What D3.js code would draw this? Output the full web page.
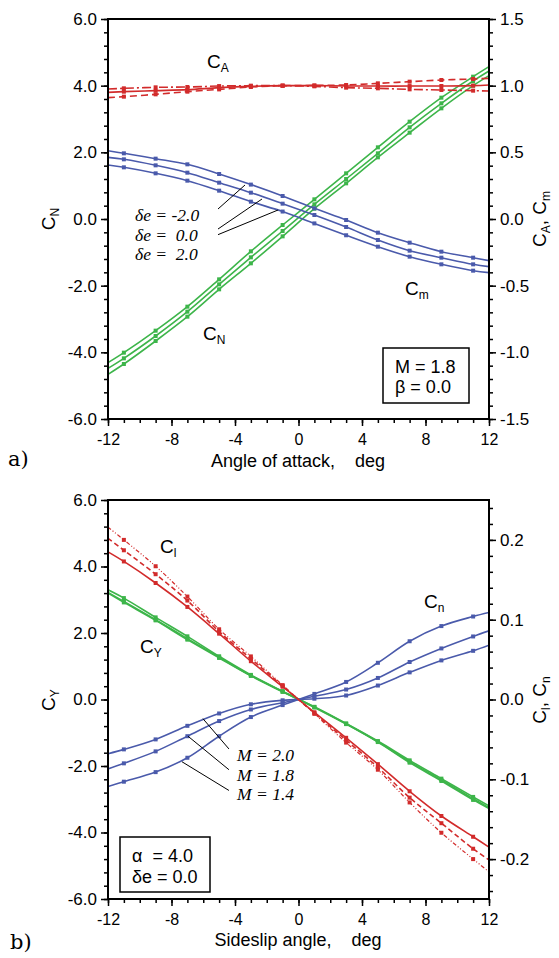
<!DOCTYPE html>
<html>
<head>
<meta charset="utf-8">
<script src="https://cdn.jsdelivr.net/npm/d3@7"></script>
<style>
body { margin: 0; background: #fff; }
svg { display: block; font-family: "Liberation Sans", Arial, sans-serif; }
.axis text { font-family: "Liberation Sans", Arial, sans-serif; font-size: 17px; fill: #000; }
.axis.xlab text { font-size: 16px; }
.axis line { stroke: #000; stroke-width: 1.5; }
.axis path { display: none; }
.lbl { font-size: 19px; }
.note { font-family: "Liberation Serif", "Times New Roman", serif; font-style: italic; font-size: 17.5px; white-space: pre; }
.title { font-size: 18px; white-space: pre; }
.box { font-size: 18px; }
</style>
</head>
<body>
<svg id="chart" width="559" height="958"></svg>
<script>
// angle stations (deg), markers on the odd ones
var angles = [-12, -11, -9, -7, -5, -3, -1, 1, 3, 5, 7, 9, 11, 12];

// a) alpha sweep, M = 1.8
var normDeM2 = [-4.66, -4.35, -3.66, -2.93, -2.11, -1.33, -0.52, 0.31, 1.07, 1.85, 2.59, 3.32, 4.0, 4.3];
var normDe0 = [-4.48, -4.18, -3.51, -2.78, -1.96, -1.15, -0.36, 0.44, 1.2, 1.97, 2.75, 3.47, 4.14, 4.44];
var normDeP2 = [-4.31, -4.01, -3.35, -2.63, -1.81, -0.97, -0.18, 0.59, 1.37, 2.15, 2.92, 3.64, 4.27, 4.57];
var pitchDeM2 = [0.5125, 0.4925, 0.4525, 0.41, 0.3375, 0.258, 0.1725, 0.08, -0.0075, -0.1025, -0.1775, -0.245, -0.29, -0.3125];
var pitchDe0 = [0.4625, 0.4475, 0.4025, 0.3475, 0.2725, 0.1975, 0.115, 0.03, -0.06, -0.1575, -0.2375, -0.29, -0.34, -0.3575];
var pitchDeP2 = [0.405, 0.3875, 0.3425, 0.2875, 0.2125, 0.13, 0.056, -0.033, -0.122, -0.2075, -0.2825, -0.34, -0.3875, -0.4025];
var axialDe0 = [0.95, 0.955, 0.9625, 0.97, 0.985, 0.995, 1.0, 1.0, 0.998, 0.997, 0.997, 0.9975, 1.0, 1.005];
var axialDeM2 = [0.91, 0.9175, 0.935, 0.955, 0.972, 0.99, 1.0, 1.002, 1.005, 1.0175, 1.03, 1.0425, 1.05, 1.055];
var axialDeP2 = [0.975, 0.98, 0.9875, 0.99, 0.997, 1.0, 1.0, 0.995, 0.985, 0.98, 0.9725, 0.9675, 0.9625, 0.96];

// b) beta sweep, alpha = 4
var sideM20 = [3.3, 3.05, 2.47, 1.9, 1.3, 0.74, 0.25, -0.22, -0.72, -1.25, -1.83, -2.38, -2.93, -3.2];
var sideM18 = [3.22, 2.95, 2.4, 1.83, 1.27, 0.72, 0.24, -0.23, -0.73, -1.27, -1.87, -2.42, -2.98, -3.25];
var sideM14 = [3.2, 2.92, 2.38, 1.8, 1.25, 0.71, 0.23, -0.24, -0.74, -1.28, -1.9, -2.45, -3.02, -3.28];
var rollM20 = [0.185, 0.173, 0.146, 0.116, 0.0825, 0.048, 0.016, -0.016, -0.048, -0.081, -0.115, -0.146, -0.172, -0.185];
var rollM18 = [0.202, 0.187, 0.157, 0.124, 0.085, 0.051, 0.017, -0.017, -0.051, -0.085, -0.123, -0.155, -0.187, -0.201];
var rollM14 = [0.216, 0.2, 0.167, 0.129, 0.088, 0.054, 0.018, -0.018, -0.054, -0.088, -0.129, -0.167, -0.2, -0.216];
var yawM20 = [-0.068, -0.0625, -0.05, -0.033, -0.0175, -0.006, -0.001, 0.001, 0.005, 0.0175, 0.034, 0.049, 0.061, 0.068];
var yawM18 = [-0.087, -0.08, -0.065, -0.046, -0.027, -0.0125, -0.004, 0.004, 0.0125, 0.027, 0.047, 0.064, 0.079, 0.086];
var yawM14 = [-0.109, -0.103, -0.091, -0.073, -0.046, -0.022, -0.007, 0.007, 0.022, 0.046, 0.073, 0.092, 0.104, 0.109];

// ticks
var xTicks = [-12, -8, -4, 0, 4, 8, 12];
var leftTicks = [-6, -4, -2, 0, 2, 4, 6];
var topRightTicks = [-1.5, -1, -0.5, 0, 0.5, 1, 1.5];
var botRightTicks = [-0.2, -0.1, 0, 0.1, 0.2];

var blue = "#4a5aab", green = "#3db54a", red = "#d22b2b";
var dashed = "7,4", dashDot = "9,3,2,3", dashDotDot = "4,2,1,2,1,2";

var svg = d3.select("#chart");

// plain hyphen instead of the unicode minus
var fmt = function(v) { return d3.format(".1f")(v).replace("\u2212", "-"); },
    fmtInt = function(v) { return d3.format("d")(v).replace("\u2212", "-"); };

var x = d3.scaleLinear().domain([-12, 12]).range([108, 489]);

function panel(top, bottom, rDomain, rMajor, rMinor, id) {
    var p = {
        yl: d3.scaleLinear().domain([-6, 6]).range([bottom, top]),
        yr: d3.scaleLinear().domain(rDomain).range([bottom, top]),
        g: svg.append("g")
    };

    svg.append("clipPath").attr("id", id)
      .append("rect").attr("x", x.range()[0]).attr("y", top)
        .attr("width", x.range()[1] - x.range()[0]).attr("height", bottom - top);
    p.plot = p.g.append("g").attr("clip-path", "url(#" + id + ")");

    // minor ticks
    p.g.append("g").attr("class", "axis").attr("transform", "translate(0," + bottom + ")")
        .call(d3.axisBottom(x).tickValues(d3.range(-12, 13, 1)).tickSize(4).tickFormat(""));
    p.g.append("g").attr("class", "axis").attr("transform", "translate(108,0)")
        .call(d3.axisLeft(p.yl).tickValues(d3.range(-6, 6.01, 0.4)).tickSize(4).tickFormat(""));
    p.g.append("g").attr("class", "axis").attr("transform", "translate(489,0)")
        .call(d3.axisRight(p.yr).tickValues(rMinor).tickSize(4).tickFormat(""));

    // major ticks with labels
    p.g.append("g").attr("class", "axis xlab").attr("transform", "translate(0," + bottom + ")")
        .call(d3.axisBottom(x).tickValues(xTicks).tickSize(7).tickPadding(8).tickFormat(fmtInt));
    p.g.append("g").attr("class", "axis").attr("transform", "translate(108,0)")
        .call(d3.axisLeft(p.yl).tickValues(leftTicks).tickSize(7).tickPadding(4).tickFormat(fmt));
    p.g.append("g").attr("class", "axis").attr("transform", "translate(489,0)")
        .call(d3.axisRight(p.yr).tickValues(rMajor).tickSize(7).tickPadding(4).tickFormat(fmt));

    p.g.append("rect")
        .attr("x", 108).attr("y", top).attr("width", 381).attr("height", bottom - top)
        .attr("fill", "none").attr("stroke", "#000").attr("stroke-width", 2);
    return p;
}

function series(p, yScale, values, color, dash, width) {
    var pts = angles.map(function(a, i) { return {a: a, v: values[i]}; });
    var line = d3.line()
        .x(function(d) { return x(d.a); })
        .y(function(d) { return yScale(d.v); })
        .curve(d3.curveCatmullRom.alpha(0.5));
    p.plot.append("path")
        .datum(pts)
        .attr("d", line)
        .attr("fill", "none")
        .attr("stroke", color)
        .attr("stroke-width", width || 1.6)
        .attr("stroke-dasharray", dash || null);
    p.plot.selectAll(null)
        .data(pts.filter(function(d) { return Math.abs(d.a) !== 12; }))
      .enter().append("rect")
        .attr("x", function(d) { return x(d.a) - 2; })
        .attr("y", function(d) { return yScale(d.v) - 2; })
        .attr("width", 4).attr("height", 4)
        .attr("fill", color);
}

function subLabel(px, py, main, sub, rotate) {
    var t = svg.append("text").attr("class", "lbl");
    if (rotate) {
        t.attr("transform", "translate(" + px + "," + py + ") rotate(-90)").attr("text-anchor", "middle");
    } else {
        t.attr("x", px).attr("y", py);
    }
    for (var i = 0; i < main.length; i++) {
        t.append("tspan").attr("dy", i ? -4 : 0).text(main[i]);
        t.append("tspan").attr("dy", 4).attr("font-size", 12).text(sub[i]);
    }
}

function leader(p, yScale, a0, v0, a1, v1) {
    p.g.append("line")
        .attr("x1", x(a0)).attr("y1", yScale(v0))
        .attr("x2", x(a1)).attr("y2", yScale(v1))
        .attr("stroke", "#000").attr("stroke-width", 1);
}

// ---- a) ----
var pa = panel(19, 419, [-1.5, 1.5], topRightTicks, d3.range(-1.5, 1.51, 0.1), "clipA");

series(pa, pa.yl, normDeM2, green);
series(pa, pa.yl, normDe0, green);
series(pa, pa.yl, normDeP2, green);
series(pa, pa.yr, pitchDeM2, blue);
series(pa, pa.yr, pitchDe0, blue);
series(pa, pa.yr, pitchDeP2, blue);
series(pa, pa.yr, axialDe0, red);
series(pa, pa.yr, axialDeM2, red, dashed);
series(pa, pa.yr, axialDeP2, red, dashDot);

leader(pa, pa.yr, -5.07, 0.075, -3.37, 0.255);
leader(pa, pa.yr, -5.07, -0.075, -2.3, 0.15);
leader(pa, pa.yr, -5.07, -0.1175, -1.29, 0.0675);

var deLabels = ["-2.0", " 0.0", " 2.0"];
deLabels.forEach(function(s, i) {
    svg.append("text").attr("class", "note").attr("x", 135).attr("y", 221 + i * 19.5)
        .text("δe = " + s);
});

subLabel(207, 68, ["C"], ["A"]);
subLabel(203, 340, ["C"], ["N"]);
subLabel(405, 295, ["C"], ["m"]);
subLabel(55, 219, ["C"], ["N"], true);
subLabel(546, 219, ["C", ", C"], ["A", "m"], true);

svg.append("rect").attr("x", 383).attr("y", 348).attr("width", 86).attr("height", 55)
    .attr("fill", "#fff").attr("stroke", "#000").attr("stroke-width", 1.5);
svg.append("text").attr("class", "box").attr("x", 395).attr("y", 373).text("M = 1.8");
svg.append("text").attr("class", "box").attr("x", 395).attr("y", 393).text("β = 0.0");

svg.append("text").attr("class", "title").attr("x", 298).attr("y", 467)
    .attr("text-anchor", "middle").text("Angle of attack,    deg");
svg.append("text").attr("x", 8).attr("y", 466)
    .attr("font-family", "'DejaVu Serif', serif").attr("font-size", 21).text("a)");

// ---- b) ----
var pb = panel(500, 899, [-0.25, 0.25], botRightTicks, d3.range(-0.24, 0.241, 0.02), "clipB");

series(pb, pb.yl, sideM20, green);
series(pb, pb.yl, sideM18, green);
series(pb, pb.yl, sideM14, green);
series(pb, pb.yr, yawM20, blue);
series(pb, pb.yr, yawM18, blue);
series(pb, pb.yr, yawM14, blue);
series(pb, pb.yr, rollM20, red);
series(pb, pb.yr, rollM18, red, "5,3");
series(pb, pb.yr, rollM14, red, dashDotDot, 1.2);

leader(pb, pb.yr, -4.38, -0.062, -6.02, -0.024);
leader(pb, pb.yr, -4.38, -0.088, -6.96, -0.046);
leader(pb, pb.yr, -4.38, -0.114, -7.34, -0.078);

["2.0", "1.8", "1.4"].forEach(function(s, i) {
    svg.append("text").attr("class", "note").attr("x", 237).attr("y", 761 + i * 19.5).text("M = " + s);
});

subLabel(160, 553, ["C"], ["l"]);
subLabel(140, 653, ["C"], ["Y"]);
subLabel(424, 608, ["C"], ["n"]);
subLabel(55, 700, ["C"], ["Y"], true);
subLabel(546, 700, ["C", ", C"], ["l", "n"], true);

svg.append("rect").attr("x", 120).attr("y", 837).attr("width", 90).attr("height", 55)
    .attr("fill", "#fff").attr("stroke", "#000").attr("stroke-width", 1.5);
svg.append("text").attr("class", "box").attr("x", 132).attr("y", 862).attr("xml:space", "preserve").text("α  = 4.0");
svg.append("text").attr("class", "box").attr("x", 132).attr("y", 883).text("δe = 0.0");

svg.append("text").attr("class", "title").attr("x", 298).attr("y", 946)
    .attr("text-anchor", "middle").text("Sideslip angle,    deg");
svg.append("text").attr("x", 10).attr("y", 949)
    .attr("font-family", "'DejaVu Serif', serif").attr("font-size", 21).text("b)");
</script>
</body>
</html>
